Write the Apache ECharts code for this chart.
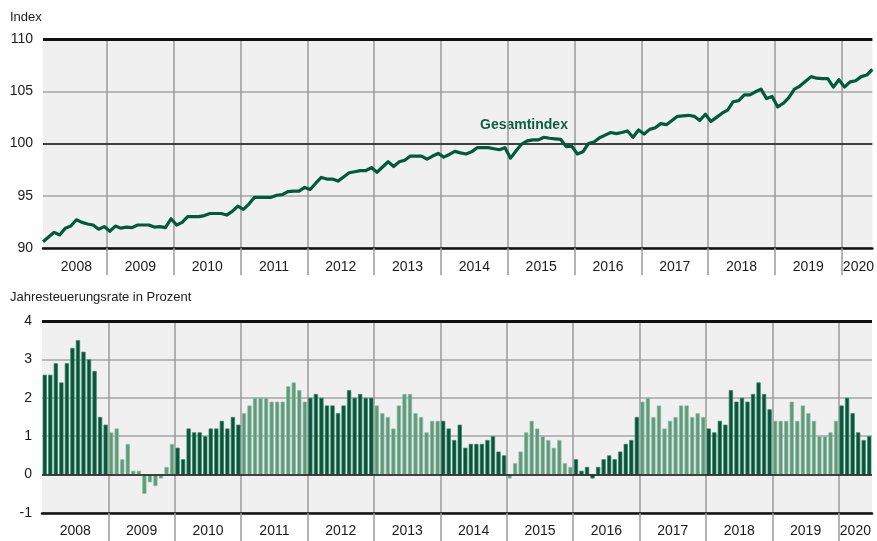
<!DOCTYPE html>
<html><head><meta charset="utf-8">
<script src="https://cdn.jsdelivr.net/npm/echarts@6/dist/echarts.min.js"></script>
<style>html,body{margin:0;padding:0;background:#fff}#c{width:877px;height:541px}</style>
</head><body><div id="c"></div>
<script>
const years = ['2008','2009','2010','2011','2012','2013','2014','2015','2016','2017','2018','2019','2020'];
const monthsInYear = [12,12,12,12,12,12,12,12,12,12,12,12,6];

const indexValues = [
  90.6, 91.05, 91.5, 91.25, 91.9, 92.1, 92.7, 92.45, 92.3, 92.2, 91.8, 92.05,
  91.6, 92.1, 91.9, 92.0, 91.95, 92.2, 92.2, 92.2, 92.0, 92.05, 91.95, 92.8,
  92.2, 92.45, 93.0, 93.0, 93.0, 93.1, 93.3, 93.3, 93.3, 93.15, 93.5, 94.0,
  93.7, 94.2, 94.85, 94.85, 94.85, 94.85, 95.05, 95.1, 95.4, 95.45, 95.45, 95.8,
  95.6, 96.2, 96.75, 96.6, 96.6, 96.4, 96.8, 97.2, 97.3, 97.4, 97.4, 97.7,
  97.25, 97.75, 98.25, 97.8, 98.25, 98.4, 98.8, 98.8, 98.8, 98.5, 98.8, 99.05,
  98.7, 98.95, 99.25, 99.1, 99.0, 99.2, 99.6, 99.6, 99.6, 99.5, 99.4, 99.6,
  98.6, 99.3, 99.95, 100.25, 100.35, 100.35, 100.6, 100.5, 100.45, 100.4, 99.7, 99.75,
  99.0, 99.2, 100.0, 100.15, 100.55, 100.8, 101.05, 100.95, 101.05, 101.2, 100.6, 101.3,
  100.9, 101.35, 101.5, 101.9, 101.8, 102.2, 102.6, 102.65, 102.7, 102.6, 102.2, 102.8,
  102.1, 102.5, 102.9, 103.2, 104.0, 104.1, 104.65, 104.65, 104.95, 105.2, 104.3, 104.5,
  103.5, 103.85, 104.4, 105.2, 105.5, 105.95, 106.4, 106.25, 106.2, 106.2, 105.4, 106.1,
  105.4, 105.9, 106.0, 106.4, 106.55, 107.1
];

const rateValues = [
  2.6, 2.6, 2.9, 2.4, 2.9, 3.3, 3.5, 3.2, 3.0, 2.7, 1.5, 1.3,
  1.1, 1.2, 0.4, 0.8, 0.1, 0.1, -0.5, -0.2, -0.3, -0.1, 0.2, 0.8,
  0.7, 0.4, 1.2, 1.1, 1.1, 1.0, 1.2, 1.2, 1.4, 1.2, 1.5, 1.3,
  1.6, 1.8, 2.0, 2.0, 2.0, 1.9, 1.9, 1.9, 2.3, 2.4, 2.2, 1.9,
  2.0, 2.1, 2.0, 1.8, 1.8, 1.6, 1.8, 2.2, 2.0, 2.1, 2.0, 2.0,
  1.8, 1.6, 1.5, 1.2, 1.8, 2.1, 2.1, 1.6, 1.5, 1.1, 1.4, 1.4,
  1.4, 1.2, 0.9, 1.3, 0.7, 0.8, 0.8, 0.8, 0.9, 1.0, 0.6, 0.5,
  -0.1, 0.3, 0.6, 1.1, 1.4, 1.2, 1.0, 0.9, 0.7, 0.9, 0.3, 0.2,
  0.4, 0.1, 0.2, -0.1, 0.2, 0.4, 0.5, 0.4, 0.6, 0.8, 0.9, 1.5,
  1.9, 2.0, 1.5, 1.8, 1.2, 1.4, 1.5, 1.8, 1.8, 1.5, 1.6, 1.5,
  1.2, 1.1, 1.4, 1.3, 2.2, 1.9, 2.0, 1.9, 2.1, 2.4, 2.1, 1.7,
  1.4, 1.4, 1.4, 1.9, 1.4, 1.8, 1.6, 1.4, 1.0, 1.0, 1.1, 1.4,
  1.8, 2.0, 1.6, 1.1, 0.9, 1.0
];

const indexTicks = [90, 95, 100, 105, 110];
const rateTicks = [-1, 0, 1, 2, 3, 4];
const titleIndex = 'Index';
const titleRate = 'Jahresteuerungsrate in Prozent';
const seriesLabel = 'Gesamtindex';

const DARK = '#00573b', LIGHT = '#5c9b7c', LINE = '#005a3d';
const FONT = '"Liberation Sans", Arial, sans-serif';

// month categories and year index per month
const months = [], yearOfMonth = [];
years.forEach((y, k) => { for (let m = 1; m <= monthsInYear[k]; m++) { months.push(y + '-' + String(m).padStart(2, '0')); yearOfMonth.push(k); } });
const N = months.length;

// half-step label axes (top: points, bottom: bands)
const topLab = [];
for (let j = 0; j < 2 * N - 1; j++) topLab.push('');
const botLab = [];
for (let j = 0; j < 2 * N + 1; j++) botLab.push('');
let start = 0;
years.forEach((y, k) => {
  const n = monthsInYear[k];
  // top: point positions i=0..N-1, boundaries at i=start-0.5
  const tA = Math.max(0, start - 0.5), tB = Math.min(N - 1, start + n - 0.5);
  topLab[Math.round(tA + tB)] = y;
  // bottom: band edges
  botLab[start + start + n] = y;
  start += n;
});
const topBoundary = new Set(), botBoundary = new Set();
start = 0;
monthsInYear.forEach((n, k) => { if (k > 0) { topBoundary.add(2 * start - 1); botBoundary.add(2 * start); } start += n; });

const barData = rateValues.map((v, i) => {
  const dark = yearOfMonth[i] % 2 === 0;
  return { value: v, itemStyle: { color: dark ? DARK : LIGHT, borderColor: dark ? '#3f8064' : '#93bca8', borderWidth: 0.7 } };
});

const axisText = { color: '#1a1a1a', fontSize: 14, fontFamily: FONT };
const vLine = { color: '#9b9b9b', width: 1.5 };

const chart = echarts.init(document.getElementById('c'), null, { renderer: 'canvas' });
chart.setOption({
  animation: false,
  backgroundColor: '#ffffff',
  grid: [
    { left: 43, right: 4, top: 39, height: 209, show: true, backgroundColor: '#f0f0f0', borderWidth: 0 },
    { left: 42, right: 5, top: 321, height: 192, show: true, backgroundColor: '#f0f0f0', borderWidth: 0 }
  ],
  xAxis: [
    { // 0: top labels / year lines
      type: 'category', gridIndex: 0, data: topLab, boundaryGap: false, position: 'bottom',
      axisLine: { show: true, onZero: false, lineStyle: { color: '#111', width: 2.5 } },
      axisTick: { show: true, length: 27, interval: (i) => topBoundary.has(i), lineStyle: vLine },
      splitLine: { show: true, interval: (i) => topBoundary.has(i), lineStyle: vLine },
      axisLabel: Object.assign({ interval: 0, margin: 12, showMinLabel: true, showMaxLabel: true }, axisText)
    },
    { // 1: top line positions
      type: 'value', gridIndex: 0, min: 0, max: N - 1, show: false, position: 'top',
      splitLine: { show: false }
    },
    { // 2: bottom bar bands
      type: 'category', gridIndex: 1, data: months, boundaryGap: true, show: false, position: 'top'
    },
    { // 3: bottom labels / year lines
      type: 'category', gridIndex: 1, data: botLab, boundaryGap: false, position: 'bottom',
      axisLine: { show: true, onZero: false, lineStyle: { color: '#111', width: 2.5 } },
      axisTick: { show: true, length: 28, interval: (i) => botBoundary.has(i), lineStyle: vLine },
      splitLine: { show: true, interval: (i) => botBoundary.has(i), lineStyle: vLine },
      axisLabel: Object.assign({ interval: 0, margin: 11, showMinLabel: true, showMaxLabel: true }, axisText)
    }
  ],
  yAxis: [
    {
      type: 'value', gridIndex: 0, min: indexTicks[0], max: indexTicks[indexTicks.length - 1], interval: 5,
      axisLine: { show: false }, axisTick: { show: false },
      splitLine: { show: true, lineStyle: { color: '#a6a6a6', width: 1.5 } },
      axisLabel: Object.assign({ margin: 10 }, axisText)
    },
    {
      type: 'value', gridIndex: 1, min: rateTicks[0], max: rateTicks[rateTicks.length - 1], interval: 1,
      axisLine: { show: false }, axisTick: { show: false },
      splitLine: { show: true, lineStyle: { color: '#a6a6a6', width: 1.5 } },
      axisLabel: Object.assign({ margin: 10 }, axisText)
    }
  ],
  series: [
    {
      name: seriesLabel, type: 'line', xAxisIndex: 1, yAxisIndex: 0,
      data: indexValues.map((v, i) => [i, v]),
      showSymbol: false, symbol: 'none', smooth: false,
      lineStyle: { color: LINE, width: 3.2, join: 'round' },
      z: 5,
      markLine: {
        silent: true, symbol: ['none', 'none'], label: { show: false }, z: 3,
        lineStyle: { color: '#111', type: 'solid' },
        data: [
          { yAxis: 110, lineStyle: { width: 3, color: '#111', type: 'solid' } },
          { yAxis: 100, lineStyle: { width: 1.6, color: '#1a1a1a', type: 'solid' } }
        ]
      }
    },
    {
      name: 'Jahresteuerungsrate', type: 'bar', xAxisIndex: 2, yAxisIndex: 1,
      data: barData, barCategoryGap: '24%',
      markLine: {
        silent: true, symbol: ['none', 'none'], label: { show: false },
        lineStyle: { color: '#111', type: 'solid' },
        data: [
          { yAxis: 4, lineStyle: { width: 3, color: '#111', type: 'solid' } },
          { yAxis: 0, lineStyle: { width: 1.6, color: '#1a1a1a', type: 'solid' } }
        ]
      }
    }
  ],
  graphic: [
    { type: 'text', left: 10, top: 11, style: { text: titleIndex, fill: '#1a1a1a', font: '13px ' + FONT } },
    { type: 'text', left: 10, top: 291, style: { text: titleRate, fill: '#1a1a1a', font: '13px ' + FONT } },
    { type: 'text', left: 480, top: 118, style: { text: seriesLabel, fill: '#0b5e42', font: 'bold 14px ' + FONT } }
  ]
});
</script>
</body></html>
